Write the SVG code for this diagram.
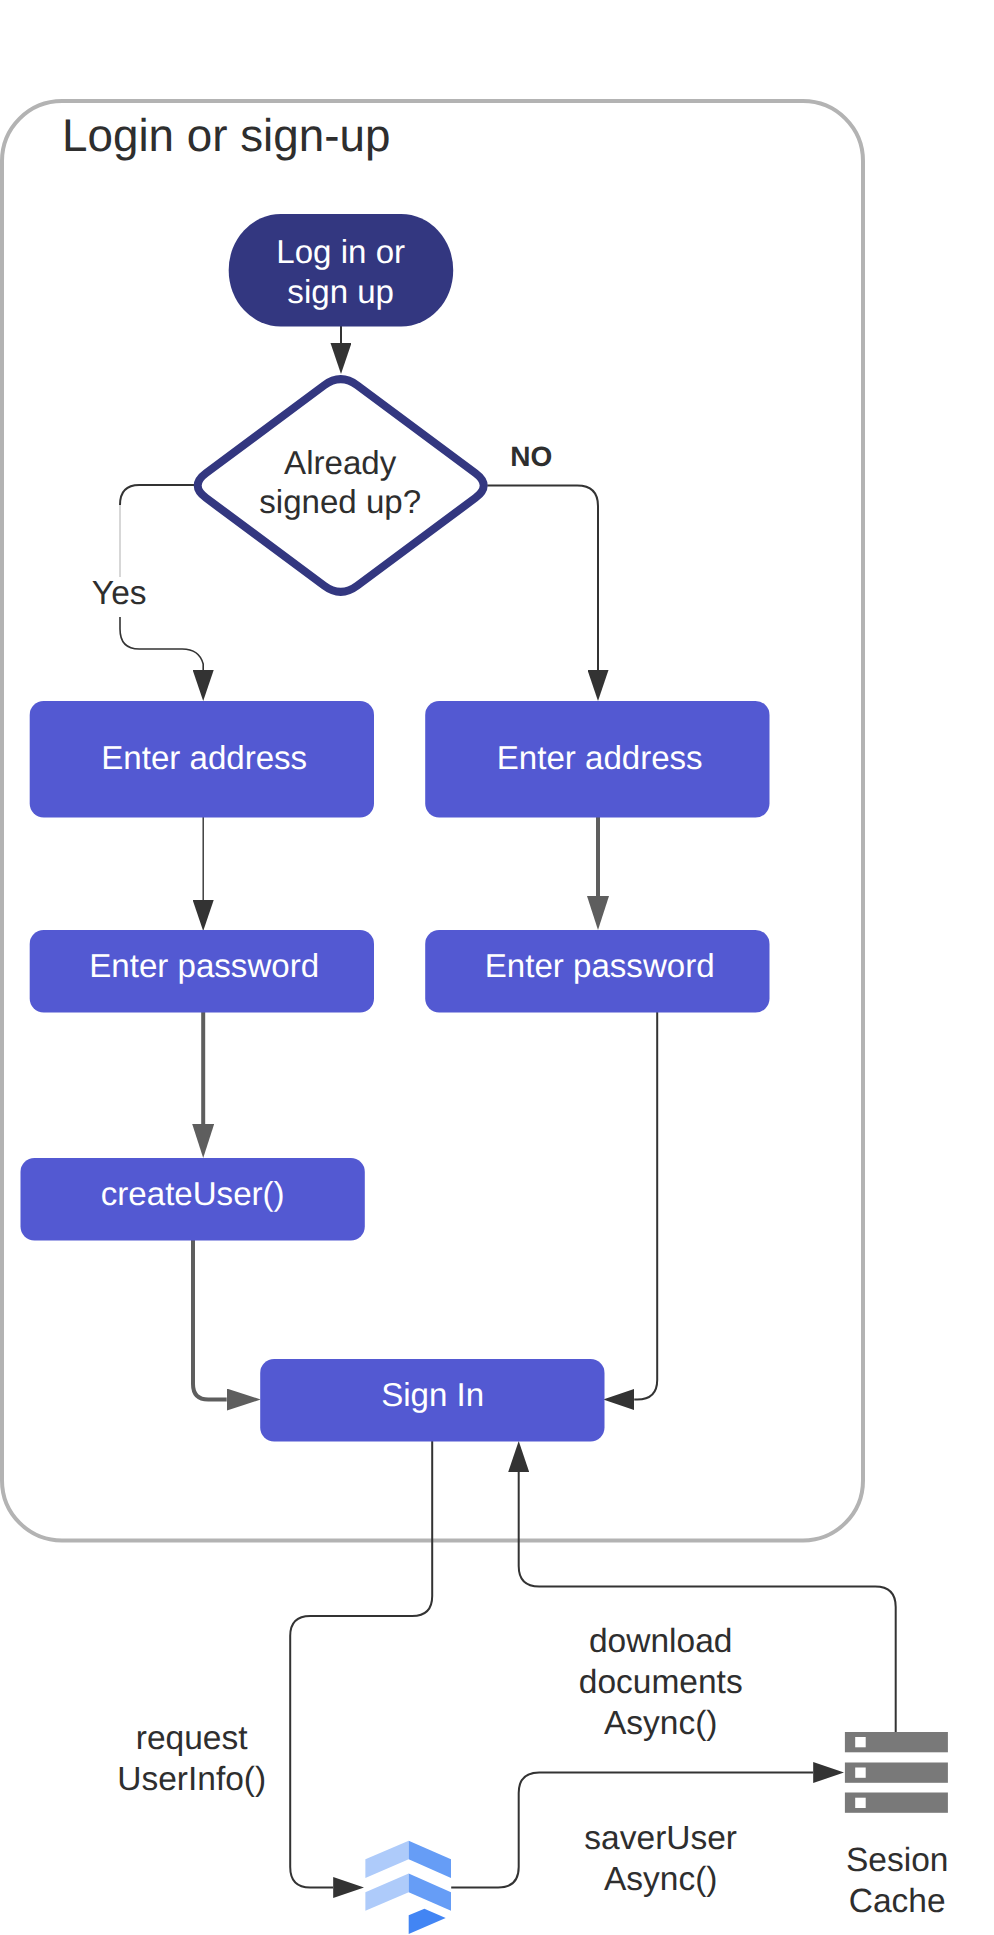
<svg xmlns="http://www.w3.org/2000/svg" width="994" height="1935" viewBox="0 0 994 1935">
<style>
text{font-family:"Liberation Sans",Arial,sans-serif;font-size:33.5px;fill:#2e2e2e;text-anchor:middle;text-rendering:geometricPrecision}
.w{fill:#fff;font-size:33.1px}
.d{font-size:33.1px}
.box{fill:#5359d2}
.c{fill:none;stroke:#333;stroke-width:2}
.g{fill:none;stroke:#5e5e5e;stroke-width:4}
.sv{fill:#797979}
.sq{fill:#fff}
</style>
<defs>
<marker id="ad" markerUnits="userSpaceOnUse" markerWidth="31" markerHeight="21" viewBox="0 0 31 21" refX="0" refY="10.5" orient="auto"><path d="M0 0L31 10.5L0 21Z" fill="#333"/></marker>
<marker id="ag" markerUnits="userSpaceOnUse" markerWidth="34" markerHeight="22" viewBox="0 0 34 22" refX="0" refY="11" orient="auto"><path d="M0 0L34 11L0 22Z" fill="#5e5e5e"/></marker>
</defs>
<rect width="994" height="1935" fill="#fff"/>
<g transform="translate(-0.8 0)">
<g id="container">
<rect x="2.800" y="101" width="861" height="1439.500" rx="60" ry="60" fill="#fff" stroke="#b3b3b3" stroke-width="4"/>
<text x="227" y="151" style="font-size:45.800px">Login or sign-up</text>
</g>
<g id="connectors">
<path class="c" d="M341.800 326V343" marker-end="url(#ad)"/>
<path class="c" d="M195 485H140Q120.800 485 120.800 505"/>
<path d="M120.800 505V577" fill="none" stroke="#bdbdbd" stroke-width="1.2"/>
<path class="c" d="M120.800 617V629Q120.800 649 140 649H183Q200 649 204 664V670" marker-end="url(#ad)" style="stroke-width:1.6"/>
<path class="c" d="M488 485.500H578Q598.800 485.500 598.800 506V670" marker-end="url(#ad)"/>
<path class="c" d="M204 817V900" marker-end="url(#ad)" style="stroke-width:1.4"/>
<path class="g" d="M598.800 817V896" marker-end="url(#ag)"/>
<path class="g" d="M204 1012V1124" marker-end="url(#ag)"/>
<path class="g" d="M193.800 1240V1384Q193.800 1399.500 209 1399.500H227.500" marker-end="url(#ag)"/>
<path class="c" d="M658 1012V1380Q658 1399.500 638 1399.500H635" marker-end="url(#ad)"/>
<path class="c" d="M433 1441V1596Q433 1616 413 1616H311Q291 1616 291 1636V1867Q291 1887.500 311 1887.500H334" marker-end="url(#ad)"/>
<path class="c" d="M896.500 1732V1607Q896.500 1586.500 876 1586.500H540Q519.500 1586.500 519.500 1566V1472" marker-end="url(#ad)"/>
<path class="c" d="M452 1887.500H499Q519.500 1887.500 519.500 1867V1793Q519.500 1772.500 540 1772.500H814" marker-end="url(#ad)"/>
</g>
<g id="start">
<rect x="229.500" y="214" width="224.500" height="112.500" rx="52" ry="56" fill="#333780"/>
<text class="w" x="341.500" y="263">Log in or</text>
<text class="w" x="341.500" y="303">sign up</text>
</g>
<g id="decision">
<path d="M206.800 473.100L324.900 385.400Q341.500 373 358.100 385.400L476.200 473.100Q492.800 485.500 476.200 497.900L358.100 585.600Q341.500 598 324.900 585.600L206.800 497.900Q190.200 485.500 206.800 473.100Z" fill="#fff" stroke="#333780" stroke-width="8"/>
<text class="d" x="341" y="474">Already</text>
<text class="d" x="341" y="513">signed up?</text>
</g>
<g id="label-yes"><text x="120" y="604">Yes</text></g>
<g id="label-no"><text x="532" y="466" style="font-size:28px;font-weight:bold">NO</text></g>
<g id="address-left">
<rect class="box" x="30.500" y="701" width="344.300" height="116.500" rx="14"/>
<text class="w" x="205" y="769">Enter address</text>
</g>
<g id="address-right">
<rect class="box" x="426" y="701" width="344.300" height="116.500" rx="14"/>
<text class="w" x="600.500" y="769">Enter address</text>
</g>
<g id="password-left">
<rect class="box" x="30.500" y="930" width="344.300" height="82.500" rx="14"/>
<text class="w" x="205" y="977">Enter password</text>
</g>
<g id="password-right">
<rect class="box" x="426" y="930" width="344.300" height="82.500" rx="14"/>
<text class="w" x="600.500" y="977">Enter password</text>
</g>
<g id="create-user">
<rect class="box" x="21.300" y="1158" width="344.300" height="82.500" rx="14"/>
<text class="w" x="193.500" y="1205">createUser()</text>
</g>
<g id="sign-in">
<rect class="box" x="261" y="1359" width="344.300" height="82.500" rx="14"/>
<text class="w" x="433.500" y="1406">Sign In</text>
</g>
<g id="label-request">
<text x="192.500" y="1749">request</text>
<text x="192.500" y="1790">UserInfo()</text>
</g>
<g id="label-download">
<text x="661.500" y="1652">download</text>
<text x="661.500" y="1693">documents</text>
<text x="661.500" y="1733.500">Async()</text>
</g>
<g id="label-save">
<text x="661.500" y="1849">saverUser</text>
<text x="661.500" y="1890">Async()</text>
</g>
<g id="firestore">
<path d="M409.500 1840.700L366.200 1859.300V1878L409.500 1859.300Z" fill="#aecbfa"/>
<path d="M409.500 1840.700L451.800 1859.300V1878L409.500 1859.300Z" fill="#669df6"/>
<path d="M409.500 1873.500L366.200 1892.300V1910.700L409.500 1892.300Z" fill="#aecbfa"/>
<path d="M409.500 1873.500L451.800 1892.300V1910.700L409.500 1892.300Z" fill="#669df6"/>
<path d="M409.500 1915.300L425.200 1908.700L446.500 1918L409.500 1934Z" fill="#4285f4"/>
</g>
<g id="session-cache">
<rect class="sv" x="845.700" y="1732" width="103" height="20.300"/>
<rect class="sq" x="856" y="1737" width="10.500" height="10.300"/>
<rect class="sv" x="845.700" y="1762.500" width="103" height="20.300"/>
<rect class="sq" x="856" y="1767.500" width="10.500" height="10.300"/>
<rect class="sv" x="845.700" y="1792.500" width="103" height="20.300"/>
<rect class="sq" x="856" y="1797.700" width="10.500" height="10.300"/>
<text x="898" y="1871">Sesion</text>
<text x="898" y="1912">Cache</text>
</g>
</g>
</svg>
